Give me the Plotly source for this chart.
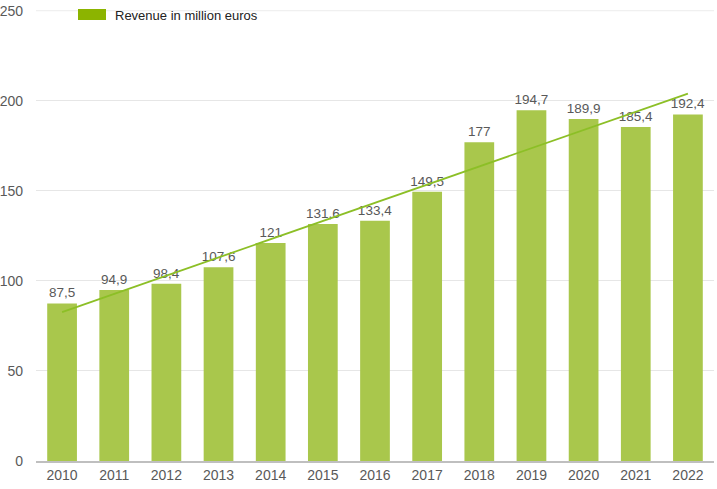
import plotly.graph_objects as go

years = ["2010", "2011", "2012", "2013", "2014", "2015", "2016", "2017", "2018", "2019", "2020", "2021", "2022"]
revenue = [87.5, 94.9, 98.4, 107.6, 121, 131.6, 133.4, 149.5, 177, 194.7, 189.9, 185.4, 192.4]
trend_years = ["2010", "2022"]
trend_values = [82.7, 204.0]
y_ticks = [0, 50, 100, 150, 200, 250]
y_max = 250
legend_label = "Revenue in million euros"

labels = [f"{v:g}".replace(".", ",") for v in revenue]

fig = go.Figure()
fig.add_trace(go.Bar(
    x=years, y=revenue, marker=dict(color="#a9c74c", line=dict(width=0)),
    text=labels, textposition="outside", cliponaxis=False,
    textfont=dict(color="#595959", size=13.5, family="Liberation Sans, Arial"),
    width=0.57, showlegend=False, hoverinfo="x+y",
))
fig.add_trace(go.Scatter(
    x=trend_years, y=trend_values, mode="lines",
    line=dict(color="#8cbf26", width=1.8), showlegend=False,
))

# top gridline
fig.add_shape(type="line", xref="paper", yref="y", x0=0, x1=1, y0=y_max, y1=y_max,
              line=dict(color="#ececec", width=1), layer="below")

# custom legend
fig.add_shape(type="rect", xref="paper", yref="paper",
              x0=(78 - 36) / 678, x1=(106 - 36) / 678,
              y0=(461 - 20) / 451, y1=(461 - 9) / 451,
              fillcolor="#8cb400", line=dict(width=0))
fig.add_annotation(text=legend_label, xref="paper", yref="paper",
                   x=(113 - 36) / 678, y=(461 - 15) / 451, xanchor="left", yanchor="middle",
                   showarrow=False, font=dict(color="#222222", size=13, family="Liberation Sans, Arial"))

fig.update_layout(
    width=717, height=489,
    margin=dict(l=36, r=3, t=10, b=28, autoexpand=False),
    plot_bgcolor="white", paper_bgcolor="white",
    font=dict(family="Liberation Sans, Arial", color="#595959", size=13),
    uniformtext=dict(minsize=13.5, mode="show"),
    xaxis=dict(type="category", showgrid=False, showline=True, linecolor="#bfbfbf", linewidth=1.5,
               ticks="", automargin=False, tickfont=dict(size=14, color="#595959")),
    yaxis=dict(range=[0, 250.4], tickvals=y_ticks, showgrid=True, gridcolor="#e6e6e6", gridwidth=1,
               zeroline=False, showline=False, ticks="", ticklabelstandoff=12,
               ticklabeloverflow="allow", automargin=False,
               tickfont=dict(size=14, color="#595959")),
)
fig.write_html("out.html", post_script="document.body.style.margin='0';",
               config={"displayModeBar": False})
